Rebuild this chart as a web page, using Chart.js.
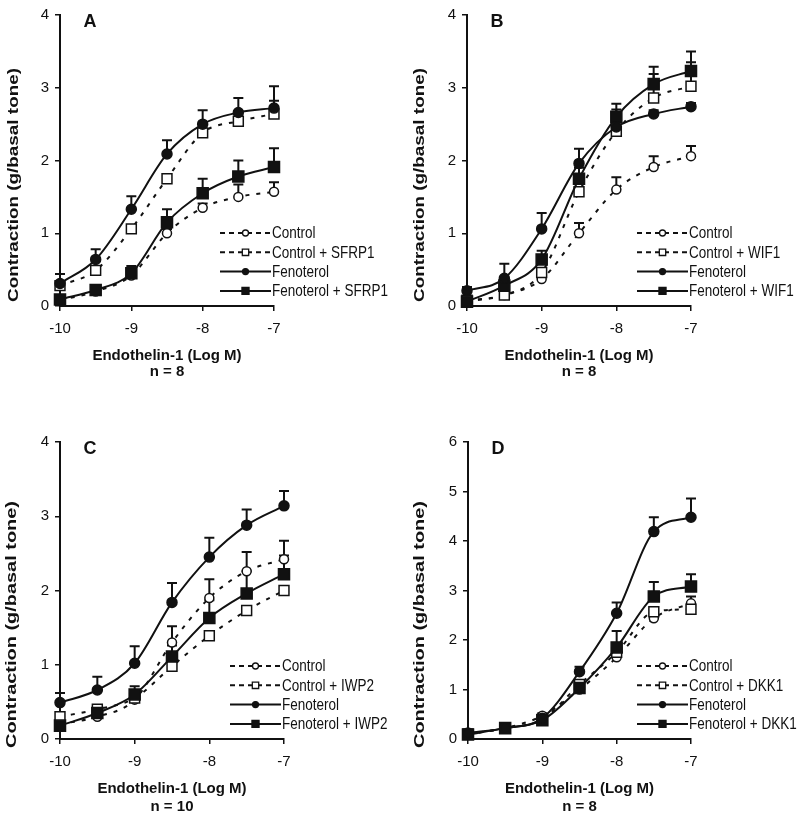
<!DOCTYPE html>
<html>
<head>
<meta charset="utf-8">
<script src="https://cdn.jsdelivr.net/npm/chart.js@4.4.0/dist/chart.umd.min.js"></script>
<style>
    html, body { margin: 0; padding: 0; background: #fff; }
    #wrap { position: relative; width: 797px; height: 818px; }
    canvas { position: absolute; }
</style>
</head>
<body>
<div id="wrap">
    <canvas id="panelA" width="398" height="400" style="left:0;top:0"></canvas>
    <canvas id="panelB" width="399" height="400" style="left:398px;top:0"></canvas>
    <canvas id="panelC" width="398" height="418" style="left:0;top:400px"></canvas>
    <canvas id="panelD" width="399" height="418" style="left:398px;top:400px"></canvas>
</div>
<script>
// Endothelin-1 concentrations (log M)
const doses = [-10, -9.5, -9, -8.5, -8, -7.5, -7];

// Panel A - SFRP1
const aControl = [0.08, 0.2, 0.42, 1.0, 1.35, 1.5, 1.57];
const aControlErr = [0.03, 0.03, 0.05, 0.06, 0.06, 0.17, 0.13];
const aSfrp1 = [0.28, 0.49, 1.06, 1.75, 2.38, 2.54, 2.64];
const aSfrp1Err = [0.03, 0.03, 0.05, 0.05, 0.05, 0.05, 0.18];
const aFen = [0.31, 0.64, 1.33, 2.09, 2.5, 2.66, 2.72];
const aFenErr = [0.13, 0.14, 0.18, 0.19, 0.19, 0.2, 0.3];
const aFenSfrp1 = [0.09, 0.22, 0.45, 1.15, 1.55, 1.78, 1.91];
const aFenSfrp1Err = [0.03, 0.03, 0.1, 0.18, 0.2, 0.22, 0.26];

// Panel B - WIF1
const bControl = [0.06, 0.15, 0.37, 1.0, 1.6, 1.91, 2.06];
const bControlErr = [0.03, 0.03, 0.05, 0.14, 0.17, 0.15, 0.14];
const bWif1 = [0.08, 0.15, 0.46, 1.57, 2.4, 2.86, 3.02];
const bWif1Err = [0.03, 0.03, 0.05, 0.05, 0.05, 0.33, 0.33];
const bFen = [0.21, 0.38, 1.06, 1.96, 2.46, 2.64, 2.74];
const bFenErr = [0.05, 0.2, 0.22, 0.2, 0.24, 0.05, 0.05];
const bFenWif1 = [0.06, 0.28, 0.64, 1.75, 2.6, 3.05, 3.23];
const bFenWif1Err = [0.03, 0.05, 0.12, 0.15, 0.18, 0.24, 0.27];

// Panel C - IWP2
const cControl = [0.2, 0.3, 0.53, 1.3, 1.9, 2.26, 2.42];
const cControlErr = [0.03, 0.03, 0.05, 0.22, 0.25, 0.26, 0.25];
const cIwp2 = [0.3, 0.4, 0.55, 0.98, 1.39, 1.73, 2.0];
const cIwp2Err = [0.03, 0.03, 0.05, 0.05, 0.05, 0.05, 0.05];
const cFen = [0.49, 0.66, 1.02, 1.84, 2.45, 2.88, 3.14];
const cFenErr = [0.13, 0.18, 0.23, 0.26, 0.26, 0.21, 0.2];
const cFenIwp2 = [0.18, 0.35, 0.6, 1.11, 1.63, 1.96, 2.22];
const cFenIwp2Err = [0.03, 0.05, 0.11, 0.15, 0.24, 0.3, 0.25];

// Panel D - DKK1
const dControl = [0.1, 0.22, 0.47, 1.0, 1.65, 2.44, 2.74];
const dControlErr = [0.03, 0.03, 0.05, 0.05, 0.1, 0.1, 0.14];
const dDkk1 = [0.1, 0.22, 0.4, 1.1, 1.75, 2.57, 2.62];
const dDkk1Err = [0.03, 0.03, 0.05, 0.05, 0.05, 0.05, 0.05];
const dFen = [0.12, 0.22, 0.42, 1.36, 2.54, 4.19, 4.48];
const dFenErr = [0.03, 0.03, 0.05, 0.1, 0.22, 0.29, 0.38];
const dFenDkk1 = [0.09, 0.22, 0.38, 1.03, 1.85, 2.88, 3.08];
const dFenDkk1Err = [0.03, 0.03, 0.05, 0.12, 0.33, 0.29, 0.25];

const FONT = '"Liberation Sans", Arial, sans-serif';
const INK = '#111';

// Marker styles, indexed like the legend order
const STYLES = [
    { pointStyle: 'circle', radius: 4.5, fill: '#fff', dash: [4, 7], legendRadius: 3 },
    { pointStyle: 'rect', radius: 7, fill: '#fff', dash: [4, 7], legendRadius: 4.5 },
    { pointStyle: 'circle', radius: 5, fill: INK, dash: [], legendRadius: 3 },
    { pointStyle: 'rect', radius: 7.8, fill: INK, dash: [], legendRadius: 5 }
];
const DRAW_ORDER = [3, 2, 0, 1];

function toPoints(values) {
    return doses.map((x, i) => ({ x: x, y: values[i] }));
}

function makeDataset(label, values, errors, k) {
    const s = STYLES[k];
    return {
        label: label,
        data: toPoints(values),
        errors: errors,
        order: DRAW_ORDER[k],
        borderColor: INK,
        borderWidth: 2,
        borderDash: s.dash,
        cubicInterpolationMode: 'monotone',
        pointStyle: s.pointStyle,
        pointRadius: s.radius,
        pointBackgroundColor: s.fill,
        pointBorderColor: INK,
        pointBorderWidth: 1.5,
        legendRadius: s.legendRadius,
        clip: false
    };
}

// Upper error bars with caps
const errorBars = {
    id: 'errorBars',
    beforeDatasetsDraw(chart) {
        const ctx = chart.ctx;
        const y = chart.scales.y;
        ctx.save();
        ctx.strokeStyle = INK;
        ctx.lineWidth = 2;
        chart.data.datasets.forEach((ds, di) => {
            const meta = chart.getDatasetMeta(di);
            meta.data.forEach((pt, i) => {
                const top = y.getPixelForValue(ds.data[i].y + ds.errors[i]);
                ctx.beginPath();
                ctx.moveTo(pt.x, pt.y);
                ctx.lineTo(pt.x, top);
                ctx.moveTo(pt.x - 5, top);
                ctx.lineTo(pt.x + 5, top);
                ctx.stroke();
            });
        });
        ctx.restore();
    }
};

function drawMarker(ctx, style, r, fill, x, y) {
    ctx.beginPath();
    if (style === 'circle') {
        ctx.arc(x, y, r, 0, Math.PI * 2);
    } else {
        const h = r * Math.SQRT1_2;
        ctx.rect(x - h, y - h, 2 * h, 2 * h);
    }
    ctx.fillStyle = fill;
    ctx.fill();
    ctx.lineWidth = 1.3;
    ctx.strokeStyle = INK;
    ctx.stroke();
}

// Panel letter, stretched y title and inside legend
const decor = {
    id: 'decor',
    afterDraw(chart, args, opts) {
        const ctx = chart.ctx;
        const area = chart.chartArea;
        ctx.save();

        ctx.fillStyle = INK;
        ctx.font = 'bold 18px ' + FONT;
        ctx.textAlign = 'center';
        ctx.textBaseline = 'middle';
        ctx.fillText(opts.letter, area.left + 30, area.top + 7);

        ctx.save();
        ctx.translate(opts.yTitleX, opts.yTitleStart);
        ctx.rotate(-Math.PI / 2);
        ctx.font = 'bold 15px ' + FONT;
        const w = ctx.measureText(opts.yTitle).width;
        ctx.scale(opts.yTitleLen / w, 1);
        ctx.textAlign = 'left';
        ctx.fillText(opts.yTitle, 0, 0);
        ctx.restore();

        const x0 = area.right - 54;
        const x1 = x0 + 51;
        const xm = (x0 + x1) / 2;
        ctx.font = '13.5px ' + FONT;
        ctx.textAlign = 'left';
        chart.data.datasets.forEach((ds, k) => {
            const yy = area.bottom - 73 + k * 19.3;
            ctx.beginPath();
            ctx.setLineDash(ds.borderDash.length ? [5, 4] : []);
            ctx.lineWidth = 2;
            ctx.strokeStyle = INK;
            ctx.moveTo(x0, yy);
            ctx.lineTo(x1, yy);
            ctx.stroke();
            ctx.setLineDash([]);
            drawMarker(ctx, ds.pointStyle, ds.legendRadius, ds.pointBackgroundColor, xm, yy);
            ctx.save();
            ctx.translate(x1 + 1, yy + 1);
            ctx.scale(1, 1.18);
            ctx.fillStyle = INK;
            ctx.fillText(ds.label, 0, 0);
            ctx.restore();
        });
        ctx.restore();
    }
};

function makePanel(id, cfg) {
    const ctx = document.getElementById(id).getContext('2d');
    const names = ['Control', 'Control + ' + cfg.agent, 'Fenoterol', 'Fenoterol + ' + cfg.agent];
    return new Chart(ctx, {
        type: 'line',
        data: {
            datasets: cfg.series.map((s, k) => makeDataset(names[k], s[0], s[1], k))
        },
        options: {
            responsive: false,
            animation: false,
            layout: { padding: { left: 0, top: cfg.top, right: cfg.right, bottom: 0 } },
            plugins: {
                legend: { display: false },
                tooltip: { enabled: false },
                decor: {
                    letter: cfg.letter,
                    yTitle: 'Contraction (g/basal tone)',
                    yTitleX: cfg.yTitleX,
                    yTitleStart: cfg.yTitleStart,
                    yTitleLen: cfg.yTitleLen
                }
            },
            scales: {
                x: {
                    type: 'linear',
                    min: -10,
                    max: -7,
                    afterFit: s => { s.height = cfg.xHeight; },
                    border: { display: true, color: INK, width: 2 },
                    grid: { drawOnChartArea: false, drawTicks: true, tickLength: 5, color: INK, lineWidth: 1.5 },
                    ticks: { stepSize: 1, padding: 9, color: INK, font: { family: FONT, size: 15 } },
                    title: {
                        display: true,
                        text: ['Endothelin-1 (Log M)', 'n = ' + cfg.n],
                        color: INK,
                        padding: { top: 0, bottom: cfg.titlePad },
                        font: { family: FONT, size: 15, weight: 'bold', lineHeight: cfg.titleLine / 15 }
                    }
                },
                y: {
                    min: 0,
                    max: cfg.yMax,
                    afterFit: s => { s.width = cfg.yWidth; },
                    border: { display: true, color: INK, width: 2 },
                    grid: { drawOnChartArea: false, drawTicks: true, tickLength: 5, color: INK, lineWidth: 1.5 },
                    ticks: { stepSize: 1, padding: 6, color: INK, font: { family: FONT, size: 15 } }
                }
            }
        },
        plugins: [errorBars, decor]
    });
}

makePanel('panelA', {
    letter: 'A', agent: 'SFRP1', n: 8, yMax: 4,
    top: 10, right: 124, yWidth: 60, xHeight: 94, titlePad: 20, titleLine: 16,
    yTitleX: 14, yTitleStart: 302, yTitleLen: 234,
    series: [[aControl, aControlErr], [aSfrp1, aSfrp1Err], [aFen, aFenErr], [aFenSfrp1, aFenSfrp1Err]]
});

makePanel('panelB', {
    letter: 'B', agent: 'WIF1', n: 8, yMax: 4,
    top: 10, right: 106, yWidth: 69, xHeight: 94, titlePad: 20, titleLine: 16,
    yTitleX: 22, yTitleStart: 302, yTitleLen: 234,
    series: [[bControl, bControlErr], [bWif1, bWif1Err], [bFen, bFenErr], [bFenWif1, bFenWif1Err]]
});

makePanel('panelC', {
    letter: 'C', agent: 'IWP2', n: 10, yMax: 4,
    top: 42, right: 114, yWidth: 60, xHeight: 79, titlePad: 2, titleLine: 18,
    yTitleX: 12, yTitleStart: 348, yTitleLen: 247,
    series: [[cControl, cControlErr], [cIwp2, cIwp2Err], [cFen, cFenErr], [cFenIwp2, cFenIwp2Err]]
});

makePanel('panelD', {
    letter: 'D', agent: 'DKK1', n: 8, yMax: 6,
    top: 42, right: 106, yWidth: 70, xHeight: 79, titlePad: 2, titleLine: 18,
    yTitleX: 22, yTitleStart: 348, yTitleLen: 247,
    series: [[dControl, dControlErr], [dDkk1, dDkk1Err], [dFen, dFenErr], [dFenDkk1, dFenDkk1Err]]
});
</script>
</body>
</html>
